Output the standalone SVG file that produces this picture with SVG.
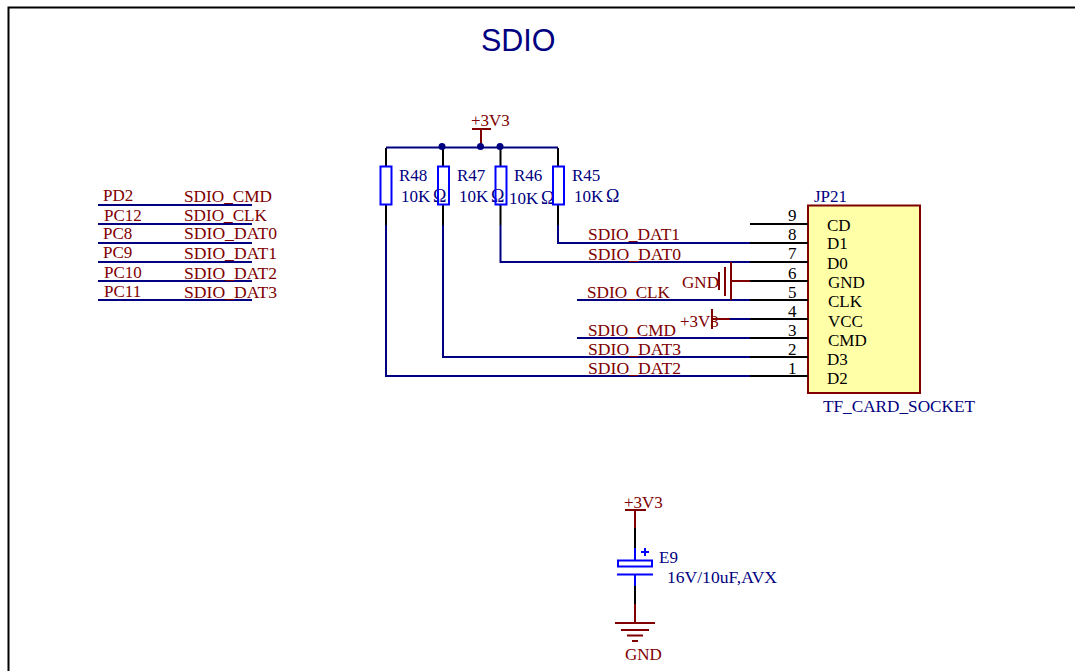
<svg xmlns="http://www.w3.org/2000/svg" width="1075" height="671" viewBox="0 0 1075 671">
<style>
text{font-family:"Liberation Serif","Times New Roman",serif;font-size:17px}
.t{fill:#800000}
.b{fill:#000080}
.k{fill:#000}
.w{stroke:#000080;stroke-width:2;fill:none}
.p{stroke:#000;stroke-width:2;fill:none}
.r{stroke:#800000;stroke-width:2;fill:none}
.c{stroke:#0000ff;stroke-width:2;fill:none}
.j{fill:#000080}
</style>
<rect width="1075" height="671" fill="#fff"/>
<path d="M8.500 671V7.500H1075" fill="none" stroke="#000" stroke-width="2"/>
<text x="481" y="51" style="font-family:'Liberation Sans',Arial,sans-serif;font-size:30.500px" fill="#000080">SDIO</text>

<g id="connectors">
<path class="w" d="M98 205H252M98 224H252M98 243H252M98 262H252M98 281H252M98 300H252"/>
<path class="p" d="M386 148V166M386 205V225M443 148V166M443 205V225M500.500 148V166M500.500 205V225M558 148V166M558 205V225"/>
<path class="w" d="M386 225V376H750M443 225V357H750M500.500 225V262H750M558 225V243H750M386 147.500H558M577 300H750M577 338H750"/>
<path class="w" d="M730 319H750"/>
<path class="r" d="M481 129V147M472 129H491"/>
<circle class="j" cx="442" cy="146.500" r="3.500"/>
<circle class="j" cx="480.500" cy="146.500" r="3.500"/>
<circle class="j" cx="500" cy="146.500" r="3.500"/>
<path class="r" d="M751 281H731M731 262V300M725 267V296M719 272V290"/>
<path class="r" d="M730 319H712M712 309V329"/>
<path class="r" d="M635 510V528M625 510H646"/>
<path class="p" d="M635 528V548M635 586V604"/>
<path d="M635 548V560M635 575V586" stroke="#0000ff" stroke-width="2" fill="none"/>
<path class="r" d="M635 604V623M615 623H655M621 630H649M627 635.500H643M632 641H638"/>
</g>

<g id="net-labels">
<text class="t" x="103" y="201">PD2</text><text class="t" x="184" y="202" textLength="88" lengthAdjust="spacingAndGlyphs">SDIO_CMD</text>
<text class="t" x="104" y="221">PC12</text><text class="t" x="184" y="221" textLength="83" lengthAdjust="spacingAndGlyphs">SDIO_CLK</text>
<text class="t" x="103" y="239">PC8</text><text class="t" x="184" y="239" textLength="93" lengthAdjust="spacingAndGlyphs">SDIO_DAT0</text>
<text class="t" x="103" y="258">PC9</text><text class="t" x="184" y="259" textLength="93" lengthAdjust="spacingAndGlyphs">SDIO_DAT1</text>
<text class="t" x="104" y="278">PC10</text><text class="t" x="184" y="279" textLength="93" lengthAdjust="spacingAndGlyphs">SDIO_DAT2</text>
<text class="t" x="104" y="297">PC11</text><text class="t" x="184" y="298" textLength="93" lengthAdjust="spacingAndGlyphs">SDIO_DAT3</text>
<text class="t" x="588" y="240" textLength="92" lengthAdjust="spacingAndGlyphs">SDIO_DAT1</text>
<text class="t" x="588" y="260" textLength="93" lengthAdjust="spacingAndGlyphs">SDIO_DAT0</text>
<text class="t" x="587" y="298" textLength="83" lengthAdjust="spacingAndGlyphs">SDIO_CLK</text>
<text class="t" x="588" y="336" textLength="88" lengthAdjust="spacingAndGlyphs">SDIO_CMD</text>
<text class="t" x="588" y="355" textLength="93" lengthAdjust="spacingAndGlyphs">SDIO_DAT3</text>
<text class="t" x="588" y="374" textLength="93" lengthAdjust="spacingAndGlyphs">SDIO_DAT2</text>
<text class="t" x="682" y="288" textLength="37" lengthAdjust="spacingAndGlyphs">GND</text>
<text class="t" x="680" y="327">+3V3</text>
<text class="t" x="471" y="126">+3V3</text>
<text class="t" x="624" y="508">+3V3</text>
<text class="t" x="625" y="660">GND</text>
</g>

<g id="R48"><rect class="c" x="380.500" y="166.500" width="11" height="38"/><text class="b" x="399" y="181">R48</text><text class="b" x="401" y="202">10K</text><text class="b" x="433" y="202" style="font-size:18px">Ω</text></g>
<g id="R47"><rect class="c" x="438" y="166.500" width="11" height="38"/><text class="b" x="457" y="181">R47</text><text class="b" x="459" y="202">10K</text><text class="b" x="491" y="202" style="font-size:18px">Ω</text></g>
<g id="R46"><rect class="c" x="495.500" y="166.500" width="11" height="38"/><text class="b" x="514" y="181">R46</text><text class="b" x="509" y="204">10K</text><text class="b" x="541" y="204" style="font-size:18px">Ω</text></g>
<g id="R45"><rect class="c" x="553" y="166.500" width="11" height="38"/><text class="b" x="572" y="181">R45</text><text class="b" x="574" y="202">10K</text><text class="b" x="606" y="202" style="font-size:18px">Ω</text></g>

<g id="JP21">
<rect x="808" y="205.500" width="112" height="187.500" fill="#ffffa8" stroke="#800000" stroke-width="2"/>
<path class="p" d="M750 224H808M750 243H808M750 262H808M750 281H808M750 300H808M750 319H808M750 338H808M750 357H808M750 376H808"/>
<text class="b" x="814" y="202">JP21</text>
<text class="b" x="823" y="412" textLength="152" lengthAdjust="spacingAndGlyphs">TF_CARD_SOCKET</text>
<g class="k">
<text x="788" y="221">9</text><text x="788" y="240">8</text><text x="788" y="259">7</text><text x="788" y="279">6</text><text x="788" y="298">5</text><text x="788" y="317">4</text><text x="788" y="336">3</text><text x="788" y="355">2</text><text x="788" y="374">1</text>
<text x="827" y="231">CD</text><text x="827" y="249">D1</text><text x="827" y="269">D0</text><text x="828" y="288">GND</text><text x="828" y="307">CLK</text><text x="828" y="327">VCC</text><text x="828" y="346">CMD</text><text x="827" y="365">D3</text><text x="827" y="384">D2</text>
</g>
</g>

<g id="E9">
<rect x="618" y="560.500" width="34" height="6" fill="#fff" stroke="#0000ff" stroke-width="2"/>
<path d="M617 574.500H653" stroke="#0000ff" stroke-width="2" fill="none"/>
<path d="M641 552H649M645 548V556" stroke="#0000ff" stroke-width="2" fill="none"/>
<text class="b" x="659" y="563">E9</text>
<text class="b" x="667" y="583" textLength="110" lengthAdjust="spacingAndGlyphs">16V/10uF,AVX</text>
</g>
</svg>
